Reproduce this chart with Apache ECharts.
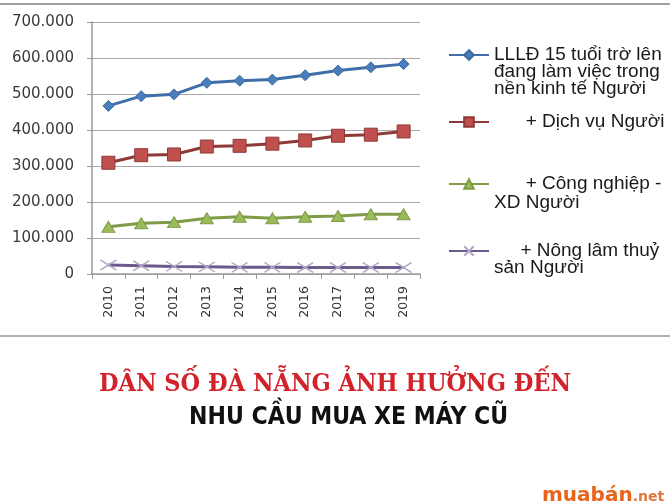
<!DOCTYPE html>
<html>
<head>
<meta charset="utf-8">
<script src="https://cdn.jsdelivr.net/npm/echarts@6/dist/echarts.min.js"></script>
<style>
  html, body { margin: 0; padding: 0; background: #ffffff; }
  #chart { width: 670px; height: 504px; }
</style>
</head>
<body>
<div id="chart"></div>
<script>
const years = ['2010', '2011', '2012', '2013', '2014', '2015', '2016', '2017', '2018', '2019'];
const yTicks = [0, 100000, 200000, 300000, 400000, 500000, 600000, 700000];

const nameTotal = 'LLLĐ 15 tuổi trờ lên\nđang làm việc trong\nnền kinh tế Người';
const nameService = '      + Dịch vụ Người';
const nameIndustry = '      + Công nghiệp -\nXD Người';
const nameAgri = '     + Nông lâm thuỷ\nsản Người';

const totalWorkers = [467000, 494000, 499000, 531000, 537000, 540000, 552000, 565000, 574000, 583000];
const serviceWorkers = [309000, 330000, 332000, 354000, 356000, 362000, 371000, 384000, 387000, 396000];
const industryWorkers = [131000, 141000, 144000, 155000, 159000, 155000, 159000, 161000, 166000, 166000];
const agriWorkers = [25000, 23000, 21000, 20000, 18500, 18500, 18000, 18000, 18000, 18000];

const titleLine1 = 'DÂN SỐ ĐÀ NẴNG ẢNH HƯỞNG ĐẾN';
const titleLine2 = 'NHU CẦU MUA XE MÁY CŨ';

const chart = echarts.init(document.getElementById('chart'), null, { renderer: 'canvas' });

const crossPath = 'path://M0,0 L10,10 M10,0 L0,10';

function fmt(v) {
  if (v === 0) return '0';
  return (v / 1000) + '.000';
}

function legendFor(name, firstLineCenter, lh) {
  const lines = name.split('\n').length;
  const top = firstLineCenter - (lines - 1) * lh - lh / 2;
  return {
    orient: 'vertical',
    left: 448,
    top: top,
    padding: 0,
    data: [name],
    itemWidth: 40,
    itemHeight: 12,
    selectedMode: false,
    formatter: function (n) { return '\n'.repeat(lines - 1) + n; },
    textStyle: {
      fontFamily: 'Liberation Sans',
      fontSize: 19,
      lineHeight: lh,
      color: '#1a1a1a'
    }
  };
}

const option = {
  backgroundColor: '#ffffff',
  animation: false,
  title: [
    {
      text: titleLine1,
      left: 'center',
      top: 372,
      padding: 0,
      textStyle: {
        fontFamily: 'DejaVu Serif Condensed',
        fontWeight: 'bold',
        fontSize: 25,
        color: '#d2232a'
      }
    },
    {
      text: titleLine2,
      left: 189,
      top: 405,
      padding: 0,
      textStyle: {
        fontFamily: 'DejaVu Sans Condensed',
        fontWeight: 'bold',
        fontSize: 24.5,
        color: '#111111'
      }
    },
    {
      text: '{a|muabán}{b|.net}',
      left: 542,
      top: 486,
      padding: 0,
      textStyle: {
        rich: {
          a: { fontFamily: 'DejaVu Sans', fontWeight: 'bold', fontSize: 20, color: '#e8641b' },
          b: { fontFamily: 'DejaVu Sans', fontSize: 14, color: '#e0773a', padding: [3, 0, 0, 0] }
        }
      }
    }
  ],
  legend: [
    legendFor(nameTotal, 54, 17),
    legendFor(nameService, 121, 17),
    legendFor(nameIndustry, 184, 19),
    legendFor(nameAgri, 250, 17)
  ],
  grid: { left: 92, right: 250, top: 22, bottom: 230, containLabel: false },
  xAxis: {
    type: 'category',
    data: years,
    boundaryGap: true,
    axisLine: { show: true, lineStyle: { color: '#9a9a9a', width: 1.5 } },
    axisTick: { show: true, length: 5, alignWithLabel: false, lineStyle: { color: '#9a9a9a' } },
    axisLabel: {
      rotate: 90,
      margin: 12,
      fontFamily: 'DejaVu Sans',
      fontSize: 12.5,
      color: '#333333'
    },
    splitLine: { show: false }
  },
  yAxis: {
    type: 'value',
    min: 0,
    max: 700000,
    interval: 100000,
    axisLine: { show: true, lineStyle: { color: '#9a9a9a', width: 1.5 } },
    axisTick: { show: true, length: 5, lineStyle: { color: '#9a9a9a' } },
    axisLabel: {
      margin: 18,
      fontFamily: 'DejaVu Sans',
      fontSize: 15,
      color: '#3a3a3a',
      formatter: fmt
    },
    splitLine: { show: true, lineStyle: { color: '#a8a8a8', width: 1 } }
  },
  series: [
    {
      name: nameTotal,
      type: 'line',
      data: totalWorkers,
      symbol: 'diamond',
      symbolSize: 11,
      lineStyle: { color: '#3f6fa8', width: 3 },
      itemStyle: { color: '#4a7ebb', borderColor: '#3d6aa0', borderWidth: 1 }
    },
    {
      name: nameService,
      type: 'line',
      data: serviceWorkers,
      symbol: 'rect',
      symbolSize: 13,
      lineStyle: { color: '#8e3a38', width: 3 },
      itemStyle: { color: '#c0504d', borderColor: '#8e3a38', borderWidth: 1 }
    },
    {
      name: nameIndustry,
      type: 'line',
      data: industryWorkers,
      symbol: 'triangle',
      symbolSize: [13, 11],
      lineStyle: { color: '#7f9b47', width: 3 },
      itemStyle: { color: '#9bbb59', borderColor: '#7f9b47', borderWidth: 1 }
    },
    {
      name: nameAgri,
      type: 'line',
      data: agriWorkers,
      symbol: crossPath,
      symbolSize: [16, 10],
      lineStyle: { color: '#6b5a8c', width: 3 },
      itemStyle: { color: 'none', borderColor: '#b4a8c8', borderWidth: 1.5 }
    }
  ],
  graphic: [
    { type: 'rect', shape: { x: 0, y: 3, width: 670, height: 2 }, style: { fill: '#a0a0a0' }, silent: true },
    { type: 'rect', shape: { x: 0, y: 335, width: 670, height: 2 }, style: { fill: '#b0b0b0' }, silent: true }
  ]
};

chart.setOption(option);
</script>
</body>
</html>
